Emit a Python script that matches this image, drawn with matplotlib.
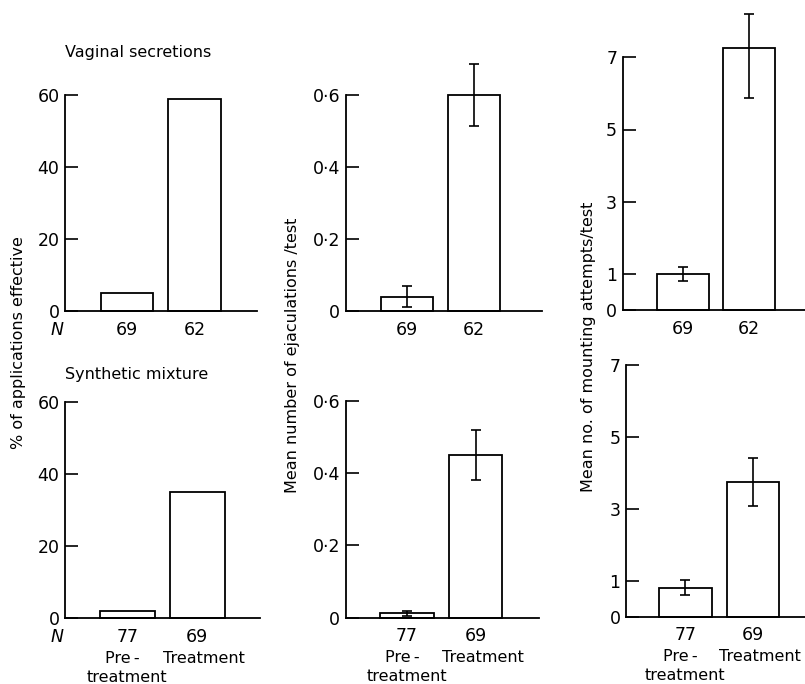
import matplotlib
matplotlib.use("Agg")
import matplotlib.pyplot as plt

plt.rcParams['font.family'] = ['DejaVu Sans']

# ---------------- data ----------------
groups = ["Pre-treatment", "Treatment"]
n_vaginal = ["69", "62"]
n_synthetic = ["77", "69"]

pct_vaginal = [5, 59]
pct_synthetic = [2, 35]

ejac_vaginal = [0.04, 0.60]
ejac_vaginal_err = [0.03, 0.085]
ejac_synthetic = [0.012, 0.45]
ejac_synthetic_err = [0.007, 0.068]

mount_vaginal = [1.0, 7.26]
mount_vaginal_err_low = [0.2, 1.38]
mount_vaginal_err_high = [0.2, 0.94]
mount_synthetic = [0.8, 3.75]
mount_synthetic_err = [0.21, 0.66]

pct_ticks = [0, 20, 40, 60]
pct_ticklabels = ["0", "20", "40", "60"]
ejac_ticks = [0, 0.2, 0.4, 0.6]
ejac_ticklabels = ["0", "0\u00b72", "0\u00b74", "0\u00b76"]
mount_ticks = [0, 1, 3, 5, 7]
mount_ticklabels = ["0", "1", "3", "5", "7"]

# ---------------- layout (pixels) ----------------
W, H = 805, 684
fig = plt.figure(figsize=(W / 100, H / 100), dpi=100)

# spine_x, first bar centre, bar spacing, right end, y of zero, y of top tick
layout = {
    "p1": (65, 127, 67.5, 257, 311, 95),
    "p2": (345.7, 407, 66.8, 541.7, 311, 95),
    "p3": (622.7, 682.8, 66.5, 805, 310, 57.3),
    "p4": (65, 127.3, 70, 260, 618.3, 401.7),
    "p5": (345.7, 407, 68.5, 539, 617.7, 400.7),
    "p6": (626, 685.3, 67.7, 805, 616.7, 365),
}

TICK_FS = 12.5
LW = 1.3


def make_axes(key, values, errs, ticks, ticklabels, ntext, bottom_row, show_N):
    sx, c0, dx, rx, y0, yt = layout[key]
    ax = fig.add_axes([sx / W, (H - y0) / H, (rx - sx) / W, (y0 - yt) / H])
    x = [0, 1]
    bars = ax.bar(x, values, width=0.78, facecolor="white", edgecolor="black",
                  linewidth=LW, zorder=2)
    for b in bars:
        b.set_clip_on(False)
    if errs is not None:
        ax.errorbar(x, values, yerr=errs, fmt="none", ecolor="black",
                    elinewidth=1.2, capsize=3.5, capthick=1.2,
                    clip_on=False, zorder=3)
    ax.set_xlim((sx - c0) / dx, (rx - c0) / dx)
    ax.set_ylim(ticks[0], ticks[-1])
    for s in ("top", "right"):
        ax.spines[s].set_visible(False)
    ax.spines["left"].set_linewidth(LW)
    ax.spines["bottom"].set_linewidth(LW)
    ax.spines["bottom"].set_zorder(4)
    ax.set_yticks(ticks)
    ax.set_yticklabels(ticklabels)
    ax.tick_params(axis="y", direction="in", length=9.5, width=1.2,
                   labelsize=TICK_FS, pad=4)
    ax.set_xticks([])
    for i, t in enumerate(ntext):
        ax.annotate(t, xy=(i, 0), xycoords=("data", "axes fraction"),
                    xytext=(0, -13.4), textcoords="offset points",
                    ha="center", va="center", fontsize=TICK_FS,
                    annotation_clip=False)
    if bottom_row:
        ax.annotate("Pre\u2009-", xy=(0, 0), xycoords=("data", "axes fraction"),
                    xytext=(-3.5, -29.0), textcoords="offset points",
                    ha="center", va="center", fontsize=11.5,
                    annotation_clip=False)
        ax.annotate("treatment", xy=(0, 0), xycoords=("data", "axes fraction"),
                    xytext=(0, -42.5), textcoords="offset points",
                    ha="center", va="center", fontsize=11.5,
                    annotation_clip=False)
        ax.annotate("Treatment", xy=(1, 0), xycoords=("data", "axes fraction"),
                    xytext=(5, -29.0), textcoords="offset points",
                    ha="center", va="center", fontsize=11.5,
                    annotation_clip=False)
    if show_N:
        ax.annotate("N", xy=((57 - sx) / (rx - sx), 0),
                    xycoords="axes fraction",
                    xytext=(0, -13.4), textcoords="offset points",
                    ha="center", va="center", fontsize=TICK_FS,
                    style="italic", annotation_clip=False)
    return ax


make_axes("p1", pct_vaginal, None, pct_ticks, pct_ticklabels, n_vaginal, False, True)
make_axes("p2", ejac_vaginal, ejac_vaginal_err, ejac_ticks, ejac_ticklabels, n_vaginal, False, False)
make_axes("p3", mount_vaginal, [mount_vaginal_err_low, mount_vaginal_err_high],
          mount_ticks, mount_ticklabels, n_vaginal, False, False)
make_axes("p4", pct_synthetic, None, pct_ticks, pct_ticklabels, n_synthetic, True, True)
make_axes("p5", ejac_synthetic, ejac_synthetic_err, ejac_ticks, ejac_ticklabels, n_synthetic, True, False)
make_axes("p6", mount_synthetic, mount_synthetic_err, mount_ticks, mount_ticklabels, n_synthetic, True, False)

# titles
fig.text(65 / W, 1 - 52 / H, "Vaginal secretions", fontsize=11.5, ha="left", va="center")
fig.text(65 / W, 1 - 375 / H, "Synthetic mixture", fontsize=11.5, ha="left", va="center")

# y labels
fig.text(19 / W, 1 - 343 / H, "% of applications effective", rotation=90,
         fontsize=11.5, ha="center", va="center")
fig.text(293 / W, 1 - 355 / H, "Mean number of ejaculations /test", rotation=90,
         fontsize=11.5, ha="center", va="center")
fig.text(588 / W, 1 - 347 / H, "Mean no. of mounting attempts/test", rotation=90,
         fontsize=11.5, ha="center", va="center")

fig.savefig("out.png", dpi=100, facecolor="white")
